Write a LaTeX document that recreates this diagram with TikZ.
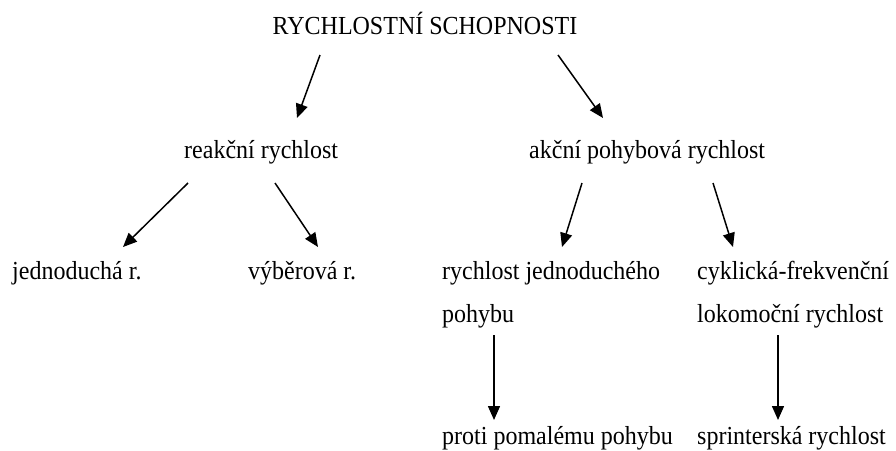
\documentclass[tikz,border=0pt]{standalone}
\usepackage{fontspec}
\setmainfont{Liberation Serif}[FakeStretch=0.923]
\usetikzlibrary{calc,arrows.meta}

\begin{document}
\begin{tikzpicture}[x=1pt,y=-1pt,
    txt/.style={anchor=base west,inner sep=0pt,align=left,
      font=\fontsize{26}{43}\selectfont},
    arr/.style={-{Triangle[length=14pt,width=12pt]},line width=1.5pt}]
     \useasboundingbox (0,0) rectangle (896,450);
     %\draw[step=50,very thin,color=blue!20] (0,0) grid (896,450);

     % texts (two-line nodes sit on the baseline of their last line)
     \node[txt,anchor=base] (rs) at (425,34) {RYCHLOSTNÍ SCHOPNOSTI};
     \node[txt] (reak) at (184,158) {reakční rychlost};
     \node[txt] (akc) at (529,158) {akční pohybová rychlost};
     \node[txt] (jedn) at (12,279) {jednoduchá r.};
     \node[txt] (vyb) at (248,279) {výběrová r.};
     \node[txt] (rjp) at (442,322) {rychlost jednoduchého\\pohybu};
     \node[txt] (cyk) at (697,322) {cyklická-frekvenční\\lokomoční rychlost};
     \node[txt] (proti) at (442,444) {proti pomalému pohybu};
     \node[txt] (sprint) at (697,444) {sprinterská rychlost};

     % arrow ends
     \coordinate (rs1) at (320,55);   \coordinate (reak0) at (297,118);
     \coordinate (rs2) at (558,55);   \coordinate (akc0) at (603,118);
     \coordinate (reak1) at (188,183); \coordinate (jedn0) at (123,247);
     \coordinate (reak2) at (275,183); \coordinate (vyb0) at (318,247);
     \coordinate (akc1) at (582,183);  \coordinate (rjp0) at (562,247);
     \coordinate (akc2) at (713,183);  \coordinate (cyk0) at (733,247);
     \coordinate (rjp1) at (494,335);  \coordinate (proti0) at (494,420);
     \coordinate (cyk1) at (778,335);  \coordinate (sprint0) at (778,420);

     \draw[arr] (rs1) -- (reak0);
     \draw[arr] (rs2) -- (akc0);
     \draw[arr] (reak1) -- (jedn0);
     \draw[arr] (reak2) -- (vyb0);
     \draw[arr] (akc1) -- (rjp0);
     \draw[arr] (akc2) -- (cyk0);
     \draw[arr] (rjp1) -- (proti0);
     \draw[arr] (cyk1) -- (sprint0);

  \end{tikzpicture}
\end{document}
